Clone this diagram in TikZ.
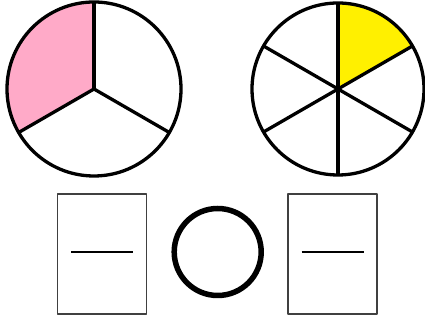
\documentclass[tikz,border=0pt]{standalone}
\usetikzlibrary{positioning}
\begin{document}
\begin{tikzpicture}[x=1pt,y=1pt,line join=round]
\definecolor{cpink}{RGB}{255,170,200}
\definecolor{cyel}{RGB}{255,240,0}
\tikzset{pie/.style={line width=3.3pt},
  ansbox/.style={draw=black!75,line width=1.2pt,minimum width=89pt,minimum height=120pt,inner sep=0pt},
  cmpring/.style={draw,circle,line width=5.5pt,minimum size=87pt,inner sep=0pt}}
\useasboundingbox (0,0) rectangle (425,320);
% ===== left pie: thirds, one shaded =====
\coordinate (lc) at (94,231);
\fill[cpink] (lc) -- ++(90:87) arc[start angle=90,end angle=210,radius=87] -- cycle;
\draw[pie] (lc) circle[radius=87];
\foreach \a in {90,210,330}{
  \draw[pie] (lc) -- ++(\a:87);}
% ===== right pie: sixths, one shaded =====
\coordinate (rc) at (338,231);
\fill[cyel] (rc) -- ++(30:86) arc[start angle=30,end angle=90,radius=86] -- cycle;
\draw[pie] (rc) circle[radius=86];
\foreach \a in {30,90,...,330}{
  \draw[pie] (rc) -- ++(\a:86);}
% ===== answer boxes and comparison ring =====
\node[ansbox] (lbox) at (102.2,66) {};
\node[cmpring] (ring) at (217.7,68) {};
\node[ansbox] (rbox) at (332.5,66) {};
\draw[line width=2.8pt] ([xshift=-31pt,yshift=2pt]lbox.center) -- ([xshift=31pt,yshift=2pt]lbox.center);
\draw[line width=2.8pt] ([xshift=-31pt,yshift=2pt]rbox.center) -- ([xshift=31pt,yshift=2pt]rbox.center);
\end{tikzpicture}
\end{document}
